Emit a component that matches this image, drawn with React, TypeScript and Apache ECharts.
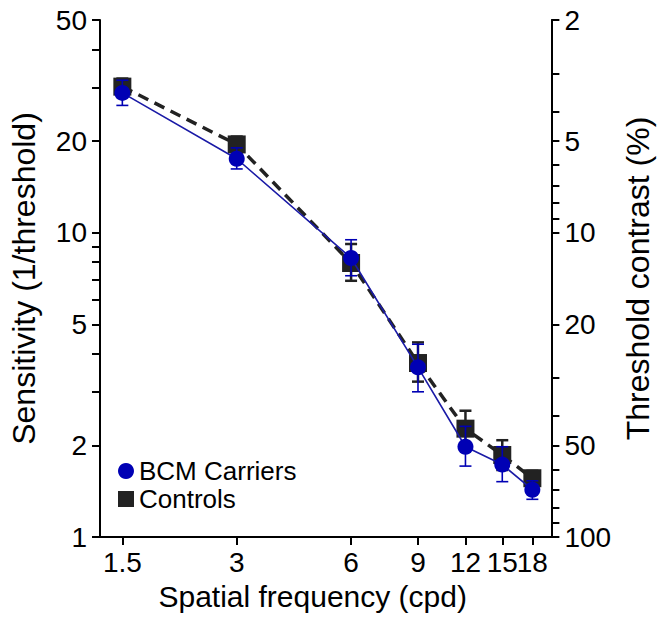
import React, { useEffect, useRef } from "react";
import * as echarts from "echarts";

const frequencies = [1.5, 3, 6, 9, 12, 15, 18];
const carriersMean = [28.8, 17.5, 8.26, 3.61, 1.98, 1.73, 1.43];
const carriersLow = [26.2, 16.2, 7.22, 3.0, 1.71, 1.52, 1.33];
const carriersHigh = [31.7, 19.0, 9.48, 4.3, 2.31, 1.98, 1.53];
const controlsMean = [30.2, 19.5, 7.95, 3.73, 2.27, 1.86, 1.56];
const controlsLow = [28.3, 18.3, 6.95, 3.24, 1.98, 1.66, 1.47];
const controlsHigh = [32.1, 20.7, 9.18, 4.36, 2.6, 2.08, 1.65];

const xTickValues = [1.5, 3, 6, 9, 12, 15, 18];
const xLabelValuesMain = [1.5, 3, 6, 9, 12, 18];
const xLabelValuesExtra = [15];
const leftLabelValues = [1, 2, 5, 10, 20, 50];
const leftTickValues = [1, 2, 3, 4, 5, 6, 7, 8, 9, 10, 20, 30, 40, 50];
const rightLabelValues = [2, 5, 10, 20, 50, 100];
const rightTickValues = [2, 3, 4, 5, 6, 7, 8, 9, 10, 20, 30, 40, 50, 60, 70, 80, 90, 100];

const BLUE = "#0000b4";
const BLUE_LINE = "#1a1aa6";
const BLACK = "#222222";
const FONT = "Liberation Sans, Arial, sans-serif";

function errorBarSeries(name: string, low: number[], high: number[], color: string, width: number) {
  return {
    type: "custom",
    name,
    xAxisIndex: 0,
    yAxisIndex: 0,
    encode: { x: 0, y: [1, 2] },
    data: frequencies.map((f, i) => [f, low[i], high[i]]),
    renderItem: (params: any, api: any) => {
      const x = api.value(0);
      const pLo = api.coord([x, api.value(1)]);
      const pHi = api.coord([x, api.value(2)]);
      const hw = 6;
      const style = { stroke: color, lineWidth: width, fill: null };
      return {
        type: "group",
        children: [
          { type: "line", shape: { x1: pLo[0], y1: pLo[1], x2: pHi[0], y2: pHi[1] }, style },
          { type: "line", shape: { x1: pLo[0] - hw, y1: pLo[1], x2: pLo[0] + hw, y2: pLo[1] }, style },
          { type: "line", shape: { x1: pHi[0] - hw, y1: pHi[1], x2: pHi[0] + hw, y2: pHi[1] }, style },
        ],
      };
    },
    silent: true,
  };
}

export default function App() {
  const ref = useRef<HTMLDivElement>(null);
  useEffect(() => {
    if (!ref.current) return;
    const chart = echarts.init(ref.current, null, { renderer: "svg" });
    const axisLineStyle = { color: "#000", width: 2 };
    const labelStyle = { color: "#000", fontSize: 28, fontFamily: FONT };
    const nameStyle = { color: "#000", fontSize: 30, fontFamily: FONT };
    const yNameStyle = { color: "#000", fontSize: 32, fontFamily: FONT };
    chart.setOption({
      animation: false,
      backgroundColor: "#fff",
      grid: { left: 93, right: 95, top: 20, bottom: 83, containLabel: false },
      legend: {
        orient: "vertical",
        left: 118,
        top: 458,
        itemWidth: 16,
        itemHeight: 16,
        itemGap: 2,
        padding: 0,
        textStyle: { color: "#000", fontSize: 26, fontFamily: FONT },
        data: [
          { name: "BCM Carriers", icon: "circle", itemStyle: { color: BLUE } },
          { name: "Controls", icon: "rect", itemStyle: { color: BLACK } },
        ],
      },
      xAxis: [
        {
          type: "log",
          min: 1.31,
          max: 20.2,
          position: "bottom",
          name: "Spatial frequency (cpd)",
          nameLocation: "middle",
          nameGap: 44,
          nameTextStyle: { ...nameStyle, padding: [0, 26, 0, 0] },
          axisLine: { show: true, lineStyle: axisLineStyle },
          axisTick: { show: true, length: 8, lineStyle: axisLineStyle, customValues: xTickValues },
          axisLabel: {
            ...labelStyle,
            margin: 11,
            customValues: xLabelValuesMain,
            formatter: (v: number) => String(v),
          },
          splitLine: { show: false },
          minorTick: { show: false },
        },
        {
          type: "log",
          min: 1.31,
          max: 20.2,
          position: "bottom",
          axisLine: { show: false },
          axisTick: { show: false },
          axisLabel: {
            ...labelStyle,
            margin: 11,
            customValues: xLabelValuesExtra,
            formatter: (v: number) => String(v),
          },
          splitLine: { show: false },
        },
      ],
      yAxis: [
        {
          type: "log",
          min: 1,
          max: 50,
          position: "left",
          name: "Sensitivity (1/threshold)",
          nameLocation: "middle",
          nameGap: 60,
          nameTextStyle: yNameStyle,
          axisLine: { show: true, lineStyle: axisLineStyle },
          axisTick: { show: true, length: 8, lineStyle: axisLineStyle, customValues: leftTickValues },
          axisLabel: { ...labelStyle, margin: 13, customValues: leftLabelValues, formatter: (v: number) => String(v) },
          splitLine: { show: false },
        },
        {
          type: "log",
          min: 2,
          max: 100,
          inverse: true,
          position: "right",
          name: "Threshold contrast (%)",
          nameLocation: "middle",
          nameGap: 57,
          nameTextStyle: yNameStyle,
          axisLine: { show: true, lineStyle: axisLineStyle },
          axisTick: { show: true, length: 8, lineStyle: axisLineStyle, customValues: rightTickValues },
          axisLabel: { ...labelStyle, margin: 13, customValues: rightLabelValues, formatter: (v: number) => String(v) },
          splitLine: { show: false },
        },
      ],
      series: [
        {
          type: "line",
          name: "Controls",
          data: frequencies.map((f, i) => [f, controlsMean[i]]),
          symbol: "rect",
          symbolSize: 18,
          itemStyle: { color: BLACK },
          lineStyle: { color: BLACK, width: 3.5, type: [11, 7] },
          z: 2,
        },
        errorBarSeries("Controls err", controlsLow, controlsHigh, BLACK, 2.5),
        {
          type: "line",
          name: "BCM Carriers",
          data: frequencies.map((f, i) => [f, carriersMean[i]]),
          symbol: "circle",
          symbolSize: 16,
          itemStyle: { color: BLUE },
          lineStyle: { color: BLUE_LINE, width: 1.6 },
          z: 3,
        },
        { ...errorBarSeries("Carriers err", carriersLow, carriersHigh, BLUE, 1.6), z: 3 },
      ],
    });
    return () => chart.dispose();
  }, []);
  return <div ref={ref} style={{ position: "fixed", left: 0, top: 0, width: 662, height: 620 }} />;
}
